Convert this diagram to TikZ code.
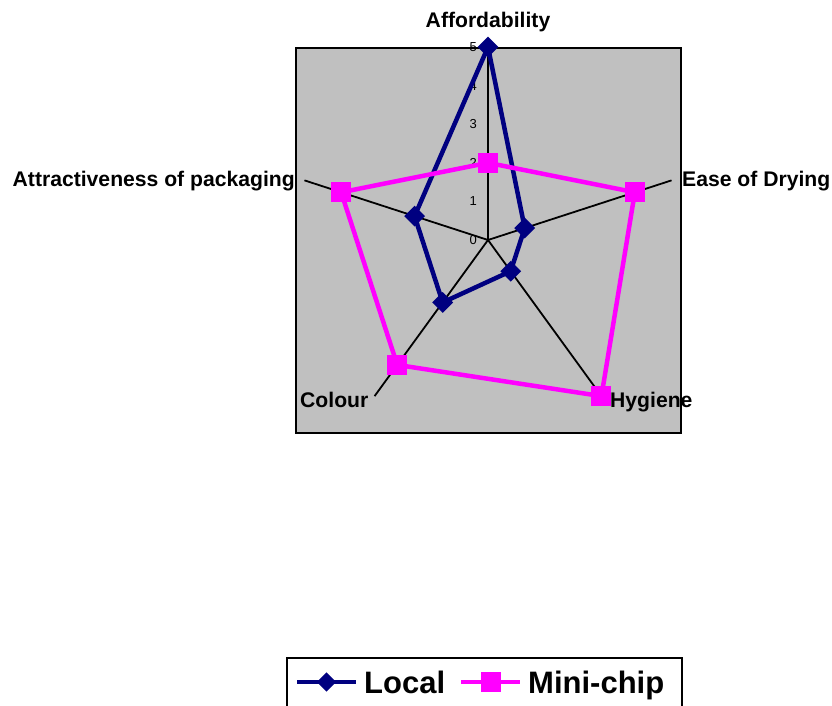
\documentclass[tikz,border=0pt]{standalone}
\usepackage{fontspec}
\setmainfont{Liberation Sans}
\usepackage{tikz}
\usetikzlibrary{shapes.geometric, positioning}
\definecolor{localblue}{HTML}{000080}
\definecolor{minipink}{HTML}{FF00FF}
\definecolor{plotgray}{HTML}{C0C0C0}

\begin{document}
\begin{tikzpicture}[x=1pt, y=-1pt,
  axislabel/.style={font=\fontsize{21.15}{21}\selectfont\bfseries, inner sep=0pt},
  ticklabel/.style={font=\fontsize{13}{13}\selectfont, anchor=east, inner sep=0pt},
  localline/.style={localblue, line width=4.5pt, line join=round},
  miniline/.style={minipink, line width=4.5pt, line join=round},
  localmark/.style={diamond, fill=localblue, inner sep=0pt, minimum size=21pt},
  minimark/.style={rectangle, fill=minipink, inner sep=0pt, minimum size=20pt},
  legendtext/.style={font=\fontsize{31}{31}\selectfont\bfseries, anchor=base west, inner sep=0pt}]
\useasboundingbox (0,0) rectangle (832,706);

% Plot area
\draw[line width=2pt, fill=plotgray] (296,48) rectangle (681,433);

% Axes
\coordinate (c) at (488,240);
\foreach \ang/\name in {90/aff, 18/ease, -54/hyg, -126/col, 162/att}
  \draw[line width=1.8pt] (c) -- ([shift={(\ang:193pt)}]c) coordinate (\name);

\foreach \v in {0,...,5}
  \node[ticklabel] (tick\v) at (477, 240-38.6*\v) {\v};

% Local series
\foreach \ang/\v/\name in {90/5/la, 18/1/lb, -54/1/lc, -126/2/ld, 162/2/le}
  \coordinate (\name) at ([shift={(\ang:{\v*38.6pt})}]c);
\draw[localline] (la) -- (lb) -- (lc) -- (ld) -- (le) -- cycle;
\foreach \n in {la,lb,lc,ld,le}
  \node[localmark] (\n-mark) at (\n) {};

% Mini-chip series
\foreach \ang/\v/\name in {90/2/ma, 18/4/mb, -54/5/mc, -126/4/md, 162/4/me}
  \coordinate (\name) at ([shift={(\ang:{\v*38.6pt})}]c);
\draw[miniline] (ma) -- (mb) -- (mc) -- (md) -- (me) -- cycle;
\foreach \n in {ma,mb,mc,md,me}
  \node[minimark] (\n-mark) at (\n) {};

% Axis labels
\node[axislabel, anchor=base] (afflabel) at (488,28) {Affordability};
\node[axislabel, anchor=base west] (easelabel) at (682,186) {Ease of Drying};
\node[axislabel, anchor=base west] (hyglabel) at (610,407) {Hygiene};
\node[axislabel, anchor=base west] (collabel) at (300,407) {Colour};
\node[axislabel, anchor=base east] (attlabel) at (295,186) {Attractiveness of packaging};

% Legend
\draw[line width=2pt] (287,720) -- (287,658) -- (682,658) -- (682,720);
\draw[localline] (297,682) -- (356,682) node[localmark, midway] (localkey) {};
\node[legendtext] (locallabel) at (364,693) {Local};
\draw[miniline] (461,682) -- (520,682) node[minimark, midway] (minikey) {};
\node[legendtext] (minilabel) at (528,693) {Mini-chip};
\end{tikzpicture}
\end{document}
